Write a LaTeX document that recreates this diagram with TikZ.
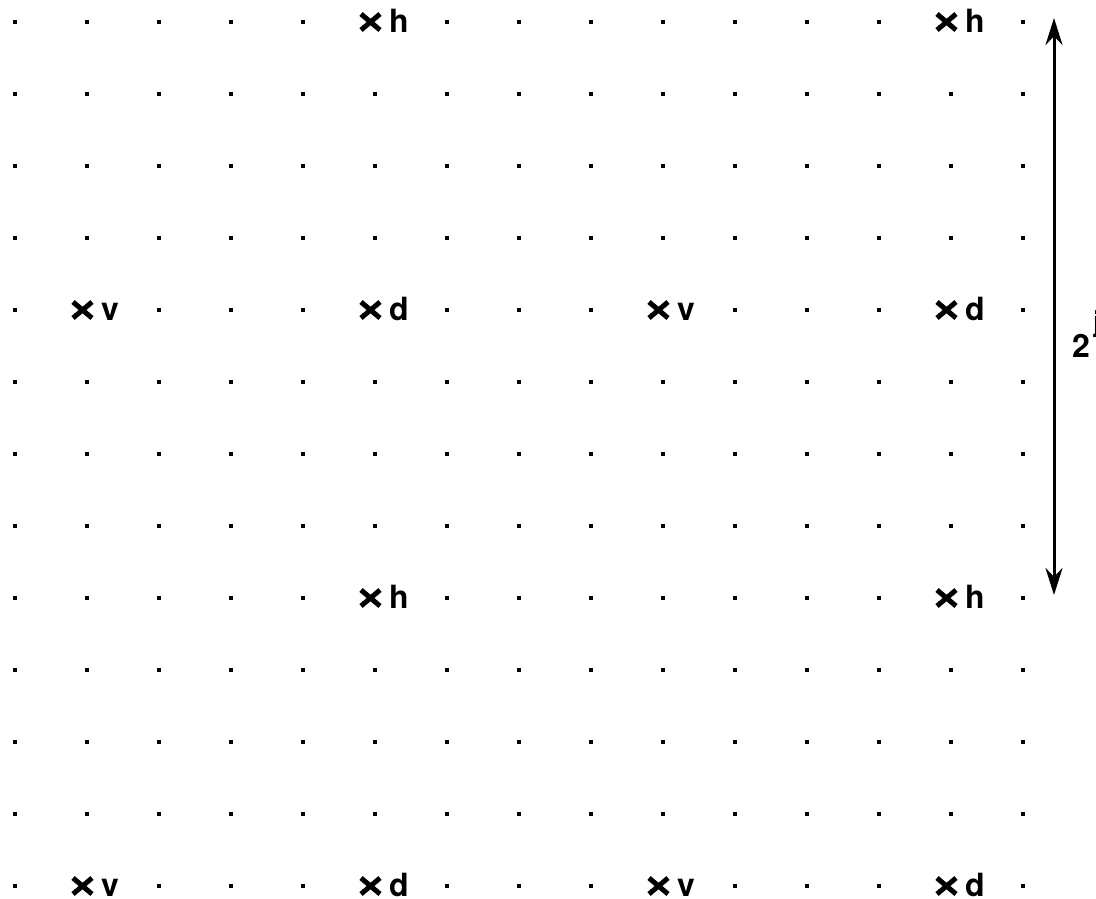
\documentclass[tikz,border=0pt]{standalone}
\usepackage{fontspec}
\setmainfont{TeX Gyre Heros}
\usetikzlibrary{arrows.meta, calc}

\tikzset{
    gridpt/.style={fill=black},
    xcross/.style={line width=5pt},
    lbl/.style={anchor=base west, inner sep=0pt,
        font=\fontsize{32}{32}\selectfont\bfseries},
}

\begin{document}
\begin{tikzpicture}[x=1pt, y=-1pt]
    \useasboundingbox (0,0) rectangle (1096,898);

    % lattice
    \foreach \c in {0,...,14}
        \foreach \r in {0,...,12}
            \fill[gridpt] ($(15+72*\c,22+72*\r)+(-2,-2)$) rectangle ++(4,4);

    % subsampled points
    \foreach \c/\r/\t in {5/0/h, 13/0/h, 1/4/v, 5/4/d, 9/4/v, 13/4/d,
                          5/8/h, 13/8/h, 1/12/v, 5/12/d, 9/12/v, 13/12/d} {
        \coordinate (p-\c-\r) at (15+72*\c,22+72*\r);
        \fill[white] ($(p-\c-\r)+(-3,-3)$) rectangle ++(6,6);
        \draw[xcross] ($(p-\c-\r)+(-14,-8)$) -- ($(p-\c-\r)+(5,8)$);
        \draw[xcross] ($(p-\c-\r)+(-14,8)$) -- ($(p-\c-\r)+(5,-8)$);
        \node[lbl] (\t-\c-\r) at ($(p-\c-\r)+(14,10)$) {\t};
    }

    \coordinate (top) at (1054,18);
    \coordinate (bot) at (1054,595);
    \draw[line width=3pt,
        {Stealth[length=27pt, width=17pt]}-{Stealth[length=27pt, width=17pt]}]
        (top) -- (bot);

    \node[lbl] (scale) at (1072,357)
        {2\kern3pt\raisebox{26pt}{\fontsize{28}{28}\selectfont j}};
\end{tikzpicture}
\end{document}
